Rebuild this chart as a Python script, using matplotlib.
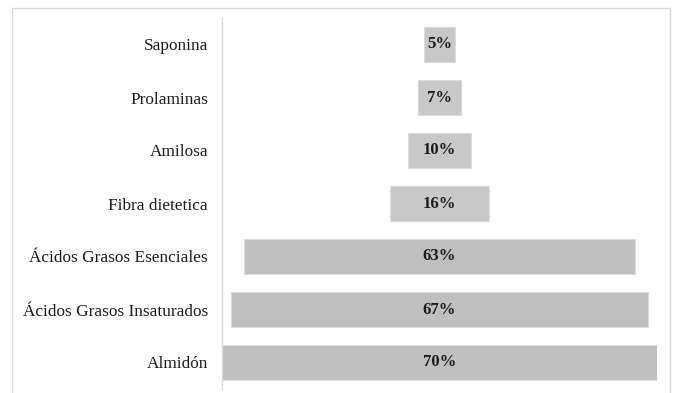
import matplotlib
matplotlib.use('Agg')
import matplotlib.pyplot as plt
from matplotlib.patches import Rectangle

# datos (de arriba hacia abajo)
categorias = ['Saponina', 'Prolaminas', 'Amilosa', 'Fibra dietetica',
              'Ácidos Grasos Esenciales', 'Ácidos Grasos Insaturados', 'Almidón']
porcentajes = [5, 7, 10, 16, 63, 67, 70]

plt.rcParams['font.family'] = ['Liberation Serif', 'DejaVu Serif']

fig = plt.figure(figsize=(6.73, 3.93), dpi=100)
ax = fig.add_axes([222 / 673, 4 / 393, 435 / 673, 371 / 393])

# marco gris alrededor del grafico
fig.patches.append(Rectangle((12 / 673, -0.05), 658 / 673, 1.05 - 8 / 393,
                             transform=fig.transFigure, fill=False,
                             edgecolor='#d9d9d9', linewidth=1.0))

n = len(categorias)
ys = list(range(n))[::-1]
colores = ['#c8c8c8' if v < 50 else '#bfbfbf' for v in porcentajes]
lefts = [-v / 2 for v in porcentajes]
ax.barh(ys, porcentajes, left=lefts, height=0.66, color=colores,
        edgecolor='#dcdcdc', linewidth=0.8)

for y, v in zip(ys, porcentajes):
    ax.text(0, y, f'{v}%', ha='center', va='center', fontsize=12,
            fontweight='bold', color='#1a1a1a')

ax.set_xlim(-35, 35)
ax.set_ylim(-0.5, n - 0.5)
ax.set_yticks(ys)
ax.set_yticklabels(categorias, fontsize=12.4, color='#1a1a1a')
ax.tick_params(axis='y', length=0, pad=10)
ax.set_xticks([])
for s in ['top', 'right', 'bottom']:
    ax.spines[s].set_visible(False)
ax.spines['left'].set_color('#d9d9d9')
ax.spines['left'].set_linewidth(1.0)

fig.savefig('out.png', dpi=100)
